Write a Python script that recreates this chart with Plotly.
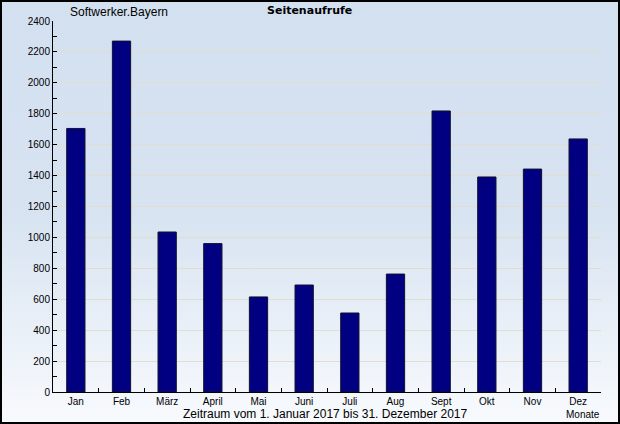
import plotly.graph_objects as go
import urllib.parse

months = ["Jan", "Feb", "März", "April", "Mai", "Juni", "Juli", "Aug", "Sept", "Okt", "Nov", "Dez"]
views = [1705, 2270, 1035, 960, 615, 692, 511, 763, 1818, 1391, 1442, 1637]
y_ticks = list(range(0, 2401, 200))

W, H = 620, 424
ML, MR, MT, MB = 53, 19, 21, 32
PW, PH = W - ML - MR, H - MT - MB

svg = (
    "<svg xmlns='http://www.w3.org/2000/svg' width='620' height='424' preserveAspectRatio='none'>"
    "<defs><linearGradient id='g' x1='0' y1='0' x2='0' y2='1'>"
    "<stop offset='0' stop-color='#d3e0f0'/>"
    "<stop offset='0.5' stop-color='#d7e3f1'/>"
    "<stop offset='1' stop-color='#f8fafd'/>"
    "</linearGradient></defs>"
    "<rect width='620' height='424' fill='url(#g)'/></svg>"
)
src = "data:image/svg+xml;charset=utf-8," + urllib.parse.quote(svg)

fig = go.Figure(go.Bar(
    x=months, y=views,
    width=0.4,
    marker=dict(color="#000080", line=dict(color="#101030", width=1)),
))

font = "Liberation Sans, Arial, sans-serif"

fig.update_layout(
    width=W, height=H,
    margin=dict(l=ML, r=MR, t=MT, b=MB),
    paper_bgcolor="white",
    plot_bgcolor="rgba(0,0,0,0)",
    showlegend=False,
    font=dict(family=font, size=10, color="black"),
    images=[dict(
        source=src, xref="paper", yref="paper",
        x=-ML / PW, y=1 + MT / PH, sizex=W / PW, sizey=H / PH,
        xanchor="left", yanchor="top", sizing="stretch", layer="below",
    )],
    xaxis=dict(
        showline=True, linecolor="black", linewidth=1,
        ticks="inside", ticklen=4, tickcolor="black",
        tickson="boundaries", showgrid=False,
        tickfont=dict(size=10),
        range=[-0.5, 11.5],
    ),
    yaxis=dict(
        range=[0, 2400], tickvals=y_ticks,
        showline=True, linecolor="black", linewidth=1,
        ticks="inside", ticklen=4, tickcolor="black",
        showgrid=True, gridcolor="#e3ddd0", gridwidth=1,
        zeroline=False,
        minor=dict(dtick=100, ticks="inside", ticklen=4, tickcolor="black", showgrid=False),
        tickfont=dict(size=10),
    ),
    shapes=[dict(
        type="rect", xref="paper", yref="paper",
        x0=-ML / PW + 1 / PW, x1=1 + MR / PW - 1 / PW,
        y0=-MB / PH + 1 / PH, y1=1 + MT / PH - 1 / PH,
        line=dict(color="black", width=2), layer="above",
    )],
    annotations=[
        dict(text="Softwerker.Bayern", xref="paper", yref="paper",
             x=(68 - ML) / PW, y=1 + (MT - 12) / PH, xanchor="left", yanchor="middle",
             showarrow=False, font=dict(size=12)),
        dict(text="<b>Seitenaufrufe</b>", xref="paper", yref="paper",
             x=(309 - ML) / PW, y=1 + (MT - 11) / PH, xanchor="center", yanchor="middle",
             showarrow=False, font=dict(size=11, family="DejaVu Sans")),
        dict(text="Zeitraum vom 1. Januar 2017 bis 31. Dezember 2017", xref="paper", yref="paper",
             x=(325 - ML) / PW, y=-(414 - MT - PH) / PH, xanchor="center", yanchor="middle",
             showarrow=False, font=dict(size=12)),
        dict(text="Monate", xref="paper", yref="paper",
             x=(583 - ML) / PW, y=-(414 - MT - PH) / PH, xanchor="center", yanchor="middle",
             showarrow=False, font=dict(size=10)),
    ],
)

fig.write_html(
    "out.html",
    config={"displayModeBar": False},
    post_script="document.body.style.margin='0';document.body.style.overflow='hidden';",
)
